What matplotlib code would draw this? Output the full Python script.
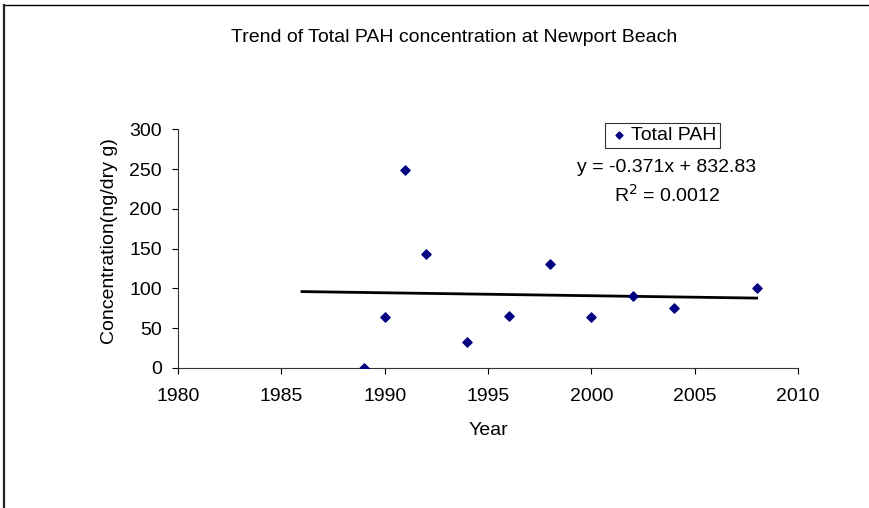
import matplotlib.pyplot as plt
from matplotlib.lines import Line2D

plt.rcParams['font.family'] = ['Liberation Sans', 'DejaVu Sans']

years = [1989, 1990, 1991, 1992, 1994, 1996, 1998, 2000, 2002, 2004, 2008]
total_pah = [0, 64, 249, 143, 33, 65.5, 130.5, 64, 90.5, 75, 100]

# trendline as shown on the chart
slope = -0.371
intercept = 832.83
r_squared = 0.0012
trend_x = [1986, 2008]

fs = 14

fig = plt.figure(figsize=(8.7, 5.08), dpi=100)
ax = fig.add_axes([178 / 870, 1 - 368 / 508, 620 / 870, 238.7 / 508])

ax.scatter(years, total_pah, marker='D', s=22, color='#000080', zorder=3, label='Total PAH')
ax.plot(trend_x, [slope * x + intercept for x in trend_x], color='black', lw=2, zorder=2)

ax.set_xlim(1980, 2010)
ax.set_ylim(0, 300)
ax.set_xticks(range(1980, 2011, 5))
ax.set_yticks(range(0, 301, 50))
ax.tick_params(direction='out', length=4.5, width=0.8, labelsize=fs, colors='black')
ax.tick_params(axis='x', pad=10)
ax.tick_params(axis='y', pad=7)
for s in ['top', 'right']:
    ax.spines[s].set_visible(False)
for s in ['left', 'bottom']:
    ax.spines[s].set_color('#333333')
    ax.spines[s].set_linewidth(0.8)

ax.set_xlabel('Year', fontsize=fs, labelpad=12)
ax.set_ylabel('Concentration(ng/dry g)', fontsize=fs)
ax.yaxis.set_label_coords(-0.097, 0.53)

fig.text(454 / 870, 1 - 38 / 508, 'Trend of Total PAH concentration at Newport Beach',
         ha='center', va='center', fontsize=fs)

leg = ax.legend(loc='center', bbox_to_anchor=(662.5 / 870, 1 - 135.5 / 508),
                bbox_transform=fig.transFigure, fontsize=fs, frameon=True, fancybox=False,
                handletextpad=0.1, handlelength=1.0, borderpad=0.2, borderaxespad=0,
                markerscale=0.75)
leg.get_frame().set_edgecolor('black')
leg.get_frame().set_linewidth(0.8)

fig.text(667 / 870, 1 - 167 / 508, f'y = {slope}x + {intercept}', ha='center', va='center', fontsize=fs)
fig.text(667 / 870, 1 - 195 / 508, f'R$^2$ = {r_squared}', ha='center', va='center', fontsize=fs)

# outer chart border (top and left edges visible)
fig.add_artist(Line2D([4 / 870, 1], [1 - 5 / 508, 1 - 5 / 508], transform=fig.transFigure, color='black', lw=1))
fig.add_artist(Line2D([4 / 870, 4 / 870], [0, 1 - 5 / 508], transform=fig.transFigure, color='#222222', lw=1.6))

fig.savefig('out.png', dpi=100)
